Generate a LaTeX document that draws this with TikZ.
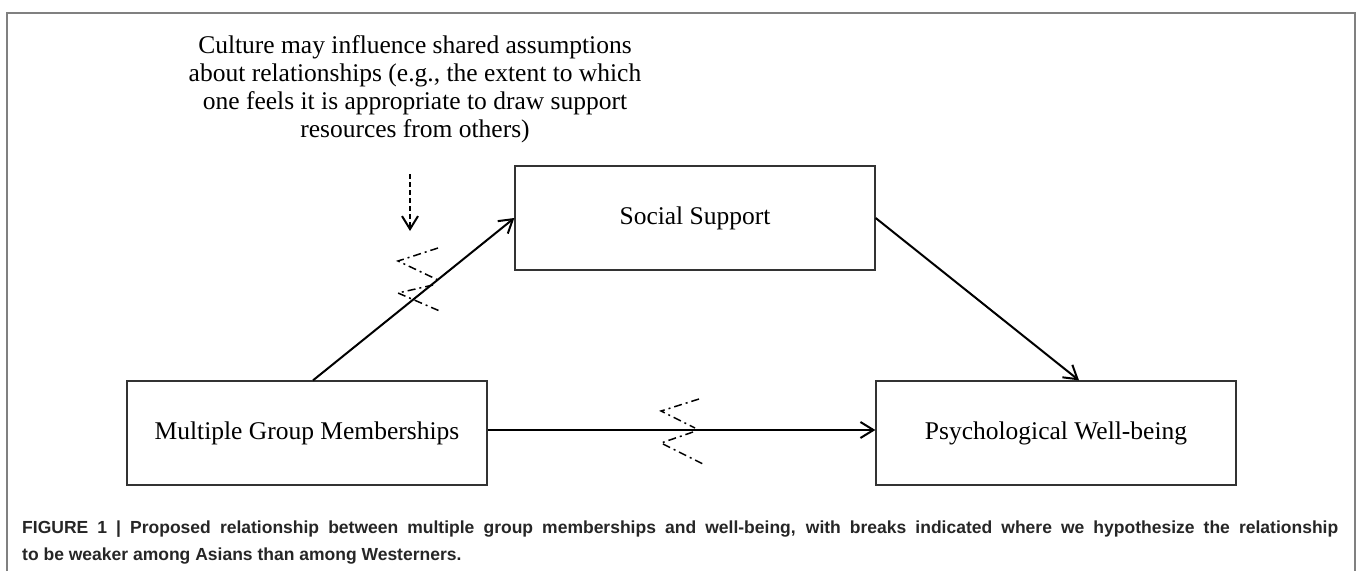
\documentclass[tikz,border=0pt]{standalone}
\usepackage{fontspec}
\setmainfont{Liberation Serif}
\newfontfamily\capfont{Liberation Sans}
\usetikzlibrary{arrows.meta}
\tikzset{
  boxnode/.style={draw=black!80, line width=1.3pt, rectangle, minimum width=360pt, minimum height=104pt, inner sep=0pt, font=\fontsize{25.5}{28}\selectfont},
  arr/.style={line width=2pt, -{Straight Barb[length=13pt,width=16pt,line width=2pt]}},
  dasharr/.style={line width=2pt, dash pattern=on 5pt off 3pt, -{Straight Barb[length=13pt,width=16pt,line width=2pt]}},
  brk/.style={line width=1.5pt, dash pattern=on 8pt off 4pt on 2pt off 4pt},
  frame/.style={draw=black!50, line width=2pt},
  captext/.style={anchor=base west, inner sep=0pt, font=\capfont\bfseries\fontsize{17.5}{20}\selectfont, text=black!85}
}
\begin{document}
\begin{tikzpicture}[x=1pt,y=-1pt]
\useasboundingbox (0,0) rectangle (1357,571);
\draw[frame] (7,571) -- (7,13) -- (1355,13) -- (1355,571);

\node[align=center, font=\fontsize{25.5}{28}\selectfont] (note) at (415,89)
  {Culture may influence shared assumptions\\about relationships (e.g., the extent to which\\one feels it is appropriate to draw support\\resources from others)};

\node[boxnode] (ss) at (695,218) {Social Support};
\node[boxnode] (ms) at (307,433) {Multiple Group Memberships};
\node[boxnode] (pw) at (1056,433) {Psychological Well-being};

\draw[arr] ([xshift=6pt]ms.north) -- (ss.west);
\draw[arr] (ss.east) -- ([xshift=23pt]pw.north);
\draw[arr] ([yshift=3pt]ms.east) -- ([yshift=3pt]pw.west);

\coordinate (d0) at (410,174);
\coordinate (d1) at (410,231);
\draw[dasharr] (d0) -- (d1);

\draw[brk] (438,248) -- (398,261) -- (438,280);
\draw[brk] (433,285) -- (398,293) -- (442,312);
\draw[brk] (699,399) -- (661,411) -- (695,428);
\draw[brk] (693,432) -- (661,443) -- (703,464);

\node[captext] (cap1) at (22,533)
  {\makebox[1316pt][s]{FIGURE 1 | Proposed relationship between multiple group memberships and well-being, with breaks indicated where we hypothesize the relationship}};
\node[captext] (cap2) at (22,560)
  {to be weaker among Asians than among Westerners.};
\end{tikzpicture}
\end{document}
